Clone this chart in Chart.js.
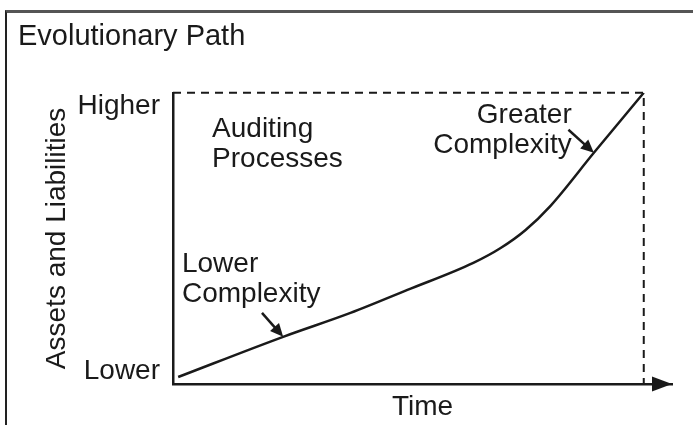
<!DOCTYPE html>
<html><head><meta charset="utf-8">
<script src="https://cdn.jsdelivr.net/npm/chart.js@4/dist/chart.umd.min.js"></script>
<style>
html,body{margin:0;padding:0;background:#fff;}
#wrap{position:relative;width:693px;height:425px;overflow:hidden;}
#frame{position:absolute;left:5px;top:10px;width:720px;height:440px;border-top:3px solid #555;border-left:2px solid #222;}
canvas{position:absolute;left:0;top:0;}
</style></head><body>
<div id="wrap"><div id="frame"></div><canvas id="c" width="693" height="425"></canvas></div>
<script>
// curve (x: time 0-100, y: level 0-100)
const timeVals  = [1.1, 23.4, 37.7, 49.8, 63.8, 69.6, 74.9, 80.2, 89.4, 100];
const levelVals = [2.4, 16.2, 24.4, 32.3, 41.6, 46.7, 52.9, 61.2, 79.4, 100];
const yTickVals   = [4.5, 95.5];
const yTickLabels = ['Lower', 'Higher'];

// callouts, in data units
const notes = [
  {lines:['Auditing','Processes'], x:8.3, y:84.9, align:'left'},
  {lines:['Lower','Complexity'],   x:1.9, y:38.5, align:'left'},
  {lines:['Greater','Complexity'], x:84.7, y:89.7, align:'right'}
];
const pointers = [
  {from:[18.9,24.4], to:[23.4,16.2]},
  {from:[84.0,87.3], to:[89.4,79.4]}
];

const ink='#1a1a1a';
const family='"Liberation Sans", Arial, sans-serif';

function arrowHead(ctx,x1,y1,x2,y2,len,half){
  const a=Math.atan2(y2-y1,x2-x1);
  ctx.beginPath();
  ctx.moveTo(x2,y2);
  ctx.lineTo(x2-len*Math.cos(a)+half*Math.sin(a), y2-len*Math.sin(a)-half*Math.cos(a));
  ctx.lineTo(x2-len*Math.cos(a)-half*Math.sin(a), y2-len*Math.sin(a)+half*Math.cos(a));
  ctx.closePath(); ctx.fill();
}

const decor={id:'decor',afterDatasetsDraw(chart){
  const {ctx,chartArea:{right,bottom},scales:{x,y}}=chart;
  ctx.save();
  ctx.strokeStyle=ink; ctx.fillStyle=ink;
  // dashed box top + right
  ctx.lineWidth=2; ctx.setLineDash([8,6]);
  ctx.beginPath();
  ctx.moveTo(x.getPixelForValue(0),y.getPixelForValue(100));
  ctx.lineTo(x.getPixelForValue(100),y.getPixelForValue(100));
  ctx.lineTo(x.getPixelForValue(100),y.getPixelForValue(0));
  ctx.stroke();
  ctx.setLineDash([]);
  // x axis arrow
  arrowHead(ctx,right-30,bottom,right,bottom,20,7.5);
  // callout text
  ctx.font='28px '+family; ctx.textBaseline='alphabetic';
  notes.forEach(n=>{
    ctx.textAlign=n.align;
    const px=x.getPixelForValue(n.x), py=y.getPixelForValue(n.y);
    n.lines.forEach((t,i)=>ctx.fillText(t,px,py+i*30));
  });
  // pointer arrows
  ctx.lineWidth=2.5;
  pointers.forEach(p=>{
    const x1=x.getPixelForValue(p.from[0]),y1=y.getPixelForValue(p.from[1]);
    const x2=x.getPixelForValue(p.to[0]),y2=y.getPixelForValue(p.to[1]);
    const a=Math.atan2(y2-y1,x2-x1);
    ctx.beginPath(); ctx.moveTo(x1,y1); ctx.lineTo(x2-8*Math.cos(a),y2-8*Math.sin(a)); ctx.stroke();
    arrowHead(ctx,x1,y1,x2,y2,13,6);
  });
  ctx.restore();
}};

new Chart(document.getElementById('c'),{
  type:'line',
  data:{datasets:[{
    data:timeVals.map((t,i)=>({x:t,y:levelVals[i]})),
    borderColor:ink,borderWidth:2.5,pointRadius:0,cubicInterpolationMode:'monotone',fill:false
  }]},
  options:{
    responsive:false,animation:false,
    layout:{padding:{left:18,right:21,top:0,bottom:0}},
    plugins:{
      legend:{display:false},tooltip:{enabled:false},
      title:{display:true,text:'Evolutionary Path',align:'start',color:ink,
        font:{family,size:29,weight:'normal'},padding:{top:20,bottom:38}}
    },
    scales:{
      x:{type:'linear',min:0,max:106,
        grid:{display:false,drawTicks:false},border:{color:ink,width:2.5},
        ticks:{display:false},
        title:{display:true,text:'Time',color:ink,font:{family,size:28},padding:{top:0,bottom:1}},
        afterFit(s){s.height=41;}},
      y:{min:0,max:100,
        grid:{display:false,drawTicks:false},border:{color:ink,width:2.5},
        afterBuildTicks(s){s.ticks=yTickVals.map(v=>({value:v}));},
        ticks:{color:ink,font:{family,size:28},padding:13,callback:(v,i)=>yTickLabels[i]},
        title:{display:true,text:'Assets and Liabilities',color:ink,font:{family,size:28},padding:{top:22,bottom:0}},
        afterFit(s){s.width=155;}}
    }
  },
  plugins:[decor]
});
</script>
</body></html>
